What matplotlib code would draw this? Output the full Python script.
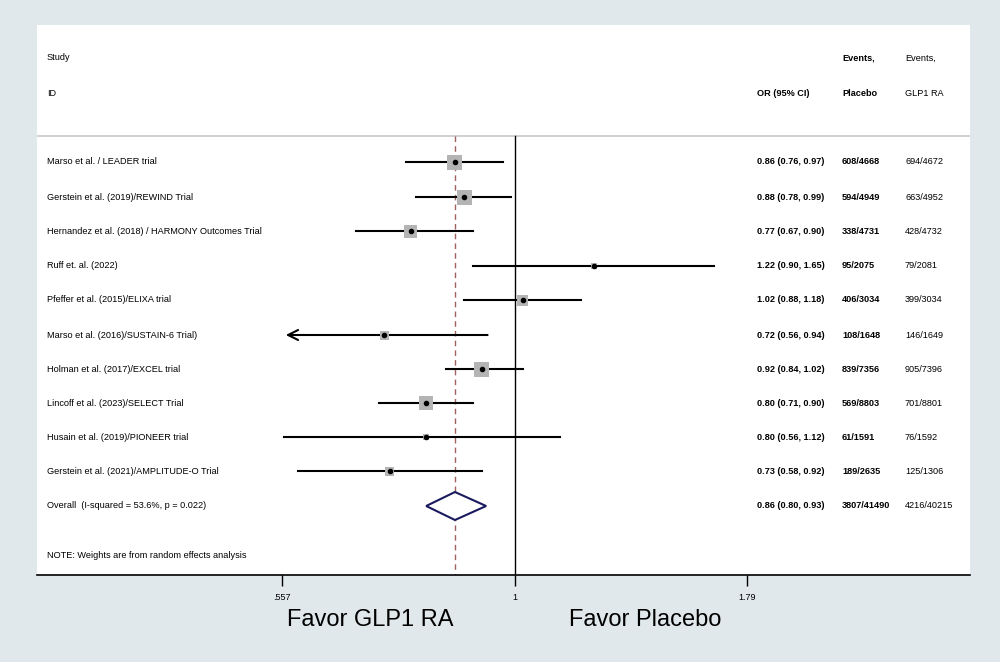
import numpy as np
import matplotlib
matplotlib.use('Agg')
import matplotlib.pyplot as plt
from matplotlib.patches import Polygon, Rectangle

plt.rcParams['font.family'] = ['Liberation Sans', 'DejaVu Sans']

studies = ["Marso et al. / LEADER trial",
           "Gerstein et al. (2019)/REWIND Trial",
           "Hernandez et al. (2018) / HARMONY Outcomes Trial",
           "Ruff et. al. (2022)",
           "Pfeffer et al. (2015)/ELIXA trial",
           "Marso et al. (2016)/SUSTAIN-6 Trial)",
           "Holman et al. (2017)/EXCEL trial",
           "Lincoff et al. (2023)/SELECT Trial",
           "Husain et al. (2019)/PIONEER trial",
           "Gerstein et al. (2021)/AMPLITUDE-O Trial"]
or_est = [0.86, 0.88, 0.77, 1.22, 1.02, 0.72, 0.92, 0.80, 0.80, 0.73]
ci_lo = [0.76, 0.78, 0.67, 0.90, 0.88, 0.56, 0.84, 0.71, 0.56, 0.58]
ci_hi = [0.97, 0.99, 0.90, 1.65, 1.18, 0.94, 1.02, 0.90, 1.12, 0.92]
ev_placebo = ["608/4668", "594/4949", "338/4731", "95/2075", "406/3034",
              "108/1648", "839/7356", "569/8803", "61/1591", "189/2635"]
ev_glp1 = ["694/4672", "663/4952", "428/4732", "79/2081", "399/3034",
           "146/1649", "905/7396", "701/8801", "76/1592", "125/1306"]
box_px = [15, 15, 13, 6, 11, 9, 15, 14, 6, 9]  # approx weight box side (px)
overall = (0.86, 0.80, 0.93)
overall_label = "Overall  (I-squared = 53.6%, p = 0.022)"
overall_placebo, overall_glp1 = "3807/41490", "4216/40215"
xticks = [0.557, 1.0, 1.79]
xtick_labels = [".557", "1", "1.79"]

W, H = 1000, 662
fig = plt.figure(figsize=(W / 100, H / 100), dpi=100)
fig.patch.set_facecolor('#e1e8eb')

# axes spans the white panel (pixel box 37..970 x 25..575)
L, R, T, B = 37, 970, 25, 575
ax = fig.add_axes([L / W, 1 - B / H, (R - L) / W, (B - T) / H])
ax.set_facecolor('white')
scale = 398.0  # px per log unit
x0 = 515
lo = np.exp((L - x0) / scale)
hi = np.exp((R - x0) / scale)
ax.set_xscale('log')
ax.set_xlim(lo, hi)
ax.set_ylim(B, T)
for s in ['top', 'right', 'left']:
    ax.spines[s].set_visible(False)
ax.spines['bottom'].set_linewidth(1.2)
ax.set_yticks([])
ax.set_xticks(xticks)
ax.set_xticklabels(xtick_labels, fontsize=6.5)
ax.minorticks_off()
ax.tick_params(axis='x', length=8, width=1, pad=5)


def px(x):
    return np.exp((x - x0) / scale)


fs = 6.6
ax.text(px(47), 58, "Study", fontsize=fs, va='center')
ax.text(px(47), 93, "ID", fontsize=fs, va='center')
ax.text(px(757), 93, "OR (95% CI)", fontsize=fs, va='center', fontweight='bold')
ax.text(px(842), 58, "Events,", fontsize=fs, va='center', fontweight='bold')
ax.text(px(842), 93, "Placebo", fontsize=fs, va='center', fontweight='bold')
ax.text(px(905), 58, "Events,", fontsize=fs, va='center')
ax.text(px(905), 93, "GLP1 RA", fontsize=fs, va='center')
ax.plot([lo, hi], [136, 136], color='#c8c8c8', lw=1.2)

ys = [162, 197, 231, 266, 300, 335, 369, 403, 437, 471]
ax.plot([1, 1], [136, B], color='black', lw=1)
ax.plot([overall[0]] * 2, [136, B], color='#a06060', lw=1, ls=(0, (4, 3)))

for i, y in enumerate(ys):
    if i == 5:
        ax.annotate("", xy=(px(283), y), xytext=(ci_hi[i], y),
                    arrowprops=dict(arrowstyle='->', lw=1.5, color='black',
                                    mutation_scale=18))
    else:
        ax.plot([ci_lo[i], ci_hi[i]], [y, y], color='black', lw=1.5)
    b = box_px[i]
    xc = x0 + scale * np.log(or_est[i])
    ax.add_patch(Rectangle((px(xc - b / 2), y - b / 2), px(xc + b / 2) - px(xc - b / 2), b,
                           facecolor='#b4b4b4', edgecolor='none', zorder=3))
    ax.plot(or_est[i], y, 'o', color='black', ms=3, zorder=4)
    ax.text(px(47), y, studies[i], fontsize=fs, va='center')
    ax.text(px(757), y, f"{or_est[i]:.2f} ({ci_lo[i]:.2f}, {ci_hi[i]:.2f})",
            fontsize=fs, va='center', fontweight='bold')
    ax.text(px(842), y, ev_placebo[i], fontsize=fs, va='center', fontweight='bold')
    ax.text(px(905), y, ev_glp1[i], fontsize=fs, va='center')

yo = 506
ax.add_patch(Polygon([(overall[1], yo), (overall[0], yo - 14), (overall[2], yo),
                      (overall[0], yo + 14)], closed=True, facecolor='white',
                     edgecolor='#1a1a5e', lw=1.5, zorder=3))
ax.text(px(47), yo, overall_label, fontsize=fs, va='center')
ax.text(px(757), yo, f"{overall[0]:.2f} ({overall[1]:.2f}, {overall[2]:.2f})",
        fontsize=fs, va='center', fontweight='bold')
ax.text(px(842), yo, overall_placebo, fontsize=fs, va='center', fontweight='bold')
ax.text(px(905), yo, overall_glp1, fontsize=fs, va='center')
ax.text(px(47), 556, "NOTE: Weights are from random effects analysis", fontsize=fs, va='center')

fig.text(370 / W, 1 - 620 / H, "Favor GLP1 RA", fontsize=17, ha='center', va='center')
fig.text(645 / W, 1 - 620 / H, "Favor Placebo", fontsize=17, ha='center', va='center')

fig.savefig('out.png', dpi=100, facecolor=fig.get_facecolor())
